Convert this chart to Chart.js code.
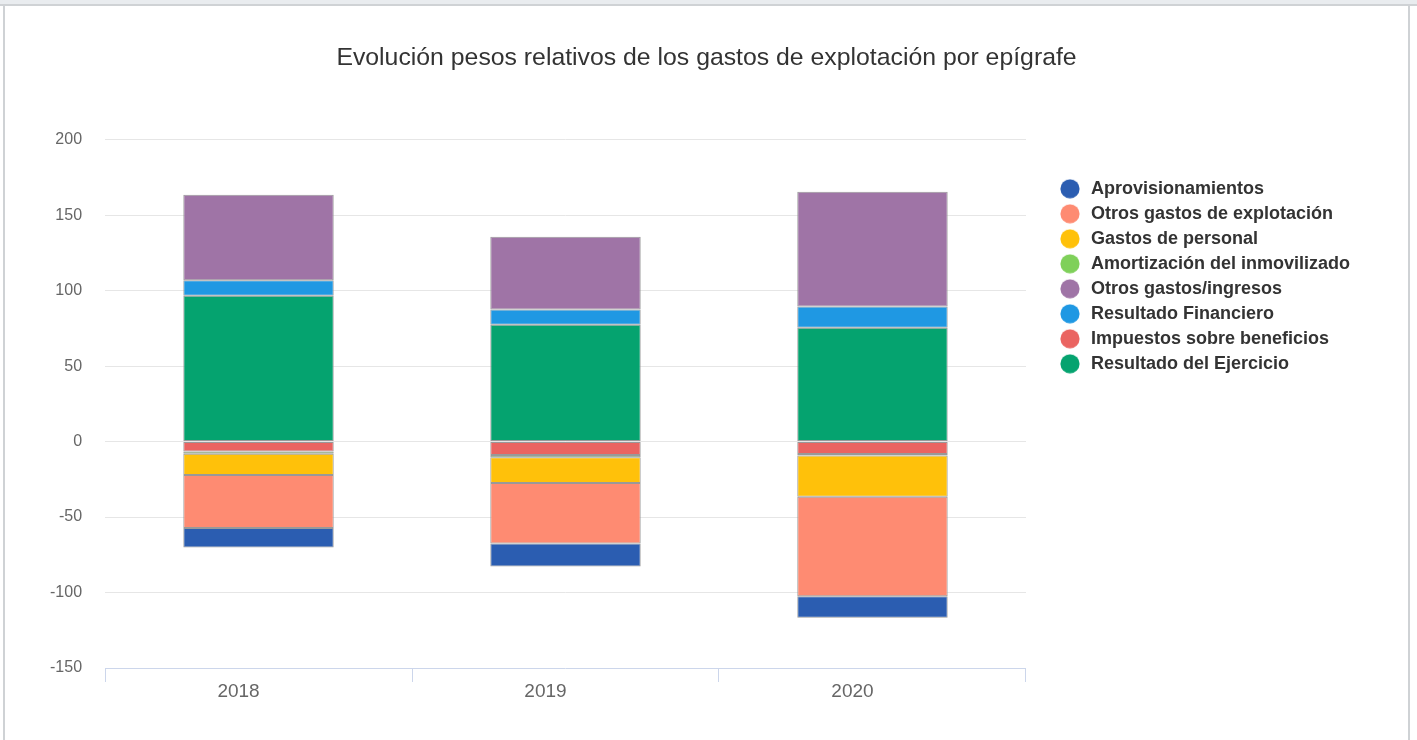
<!DOCTYPE html>
<html>
<head>
<meta charset="utf-8">
<script src="https://cdn.jsdelivr.net/npm/chart.js@4/dist/chart.umd.min.js"></script>
<style>
    body { margin: 0; background: #fff; font-family: "Liberation Sans", Arial, sans-serif; }
    .topband { height: 4px; background: #e9ecef; border-bottom: 2px solid #cfd2d5; }
    .panel { margin-left: 3px; width: 1403px; height: 734px; border-left: 2px solid #cfd2d5; border-right: 2px solid #cfd2d5; position: relative; }
</style>
</head>
<body>
<div class="topband"></div>
<div class="panel"><canvas id="gastosChart"></canvas></div>
<script>
const years = ["2018", "2019", "2020"];
const aprovisionamientos = [-12.9, -15.2, -14.2];
const otrosGastosExplotacion = [-35.1, -40.0, -66.0];
const gastosPersonal = [-14.1, -17.2, -27.3];
const amortizacion = [-1.5, -1.5, -1.0];
const otrosGastosIngresos = [56.6, 48.2, 76.0];
const resultadoFinanciero = [10.3, 10.1, 14.1];
const impuestos = [-6.6, -8.8, -8.2];
const resultadoEjercicio = [96.6, 77.4, 75.4];
const yTicks = [-150, -100, -50, 0, 50, 100, 150, 200];

const fontFamily = '"Liberation Sans", Arial, sans-serif';
const legendGap = 25; // hueco entre el área del gráfico y la leyenda

// orden de la leyenda; el apilado va al revés (el primero arriba del todo)
const series = [
    { label: "Aprovisionamientos", data: aprovisionamientos, color: "#2b5db1" },
    { label: "Otros gastos de explotación", data: otrosGastosExplotacion, color: "#fe8b72" },
    { label: "Gastos de personal", data: gastosPersonal, color: "#ffc10a" },
    { label: "Amortización del inmovilizado", data: amortizacion, color: "#7fd05a" },
    { label: "Otros gastos/ingresos", data: otrosGastosIngresos, color: "#9f74a6" },
    { label: "Resultado Financiero", data: resultadoFinanciero, color: "#1f98e3" },
    { label: "Impuestos sobre beneficios", data: impuestos, color: "#ea6461" },
    { label: "Resultado del Ejercicio", data: resultadoEjercicio, color: "#05a36f" },
];

function dot(color) {
    const c = document.createElement("canvas");
    c.width = 20;
    c.height = 20;
    const g = c.getContext("2d");
    g.fillStyle = color;
    g.beginPath();
    g.arc(10, 10, 9.6, 0, Math.PI * 2);
    g.fill();
    return c;
}

const datasets = series
    .slice()
    .reverse()
    .map((s) => ({
        label: s.label,
        data: s.data,
        backgroundColor: s.color,
        borderColor: "#999999",
        borderWidth: 1,
        borderSkipped: false,
        barPercentage: 0.49,
        categoryPercentage: 1,
    }));

// leyenda desplazada a la derecha y título centrado en todo el ancho
const layoutTweaks = {
    id: "layoutTweaks",
    afterLayout(chart) {
        const lg = chart.legend;
        if (lg) {
            const w = lg.width;
            lg.left = chart.chartArea.right + legendGap;
            lg.right = lg.left + w;
            lg.adjustHitBoxes();
        }
        const tb = chart.titleBlock;
        if (tb) {
            tb.left = 0;
            tb.right = chart.width;
            tb.width = chart.width;
        }
    },
};

new Chart(document.getElementById("gastosChart"), {
    type: "bar",
    data: { labels: years, datasets: datasets },
    plugins: [layoutTweaks],
    options: {
        responsive: true,
        maintainAspectRatio: false,
        animation: false,
        layout: { padding: { left: 22, right: 73, bottom: 39, top: 0 } },
        plugins: {
            tooltip: { enabled: false },
            title: {
                display: true,
                text: "Evolución pesos relativos de los gastos de explotación por epígrafe",
                color: "#333333",
                font: { family: fontFamily, size: 24.8, weight: "normal", lineHeight: 1.2 },
                padding: { top: 37, bottom: 67 },
            },
            legend: {
                position: "right",
                align: "start",
                fullSize: false,
                reverse: true,
                title: { display: true, text: "", font: { size: 10, lineHeight: 1 }, padding: { top: 23, bottom: 0 } },
                labels: {
                    usePointStyle: true,
                    pointStyleWidth: 24,
                    boxHeight: 14,
                    padding: 7,
                    color: "#333333",
                    font: { family: fontFamily, size: 18, weight: "bold", lineHeight: 1.1 },
                    generateLabels(chart) {
                        const items = Chart.defaults.plugins.legend.labels.generateLabels(chart);
                        items.forEach((it) => {
                            it.pointStyle = dot(it.fillStyle);
                        });
                        return items;
                    },
                },
            },
        },
        scales: {
            x: {
                stacked: true,
                grid: { drawOnChartArea: false, drawTicks: true, tickLength: 14, color: "#ccd6eb", offset: true },
                border: { display: true, color: "#ccd6eb", width: 1 },
                ticks: { color: "#666666", padding: 0, labelOffset: -20, font: { family: fontFamily, size: 19, lineHeight: 1 } },
            },
            y: {
                stacked: true,
                min: -150,
                max: 200,
                afterBuildTicks(scale) {
                    scale.ticks = yTicks.map((v) => ({ value: v }));
                },
                grid: {
                    drawTicks: false,
                    color: (ctx) => (ctx.tick && ctx.tick.value === -150 ? "rgba(0,0,0,0)" : "#e6e6e6"),
                },
                border: { display: false },
                ticks: { color: "#666666", padding: 23, font: { family: fontFamily, size: 16 } },
            },
        },
    },
});
</script>
</body>
</html>
